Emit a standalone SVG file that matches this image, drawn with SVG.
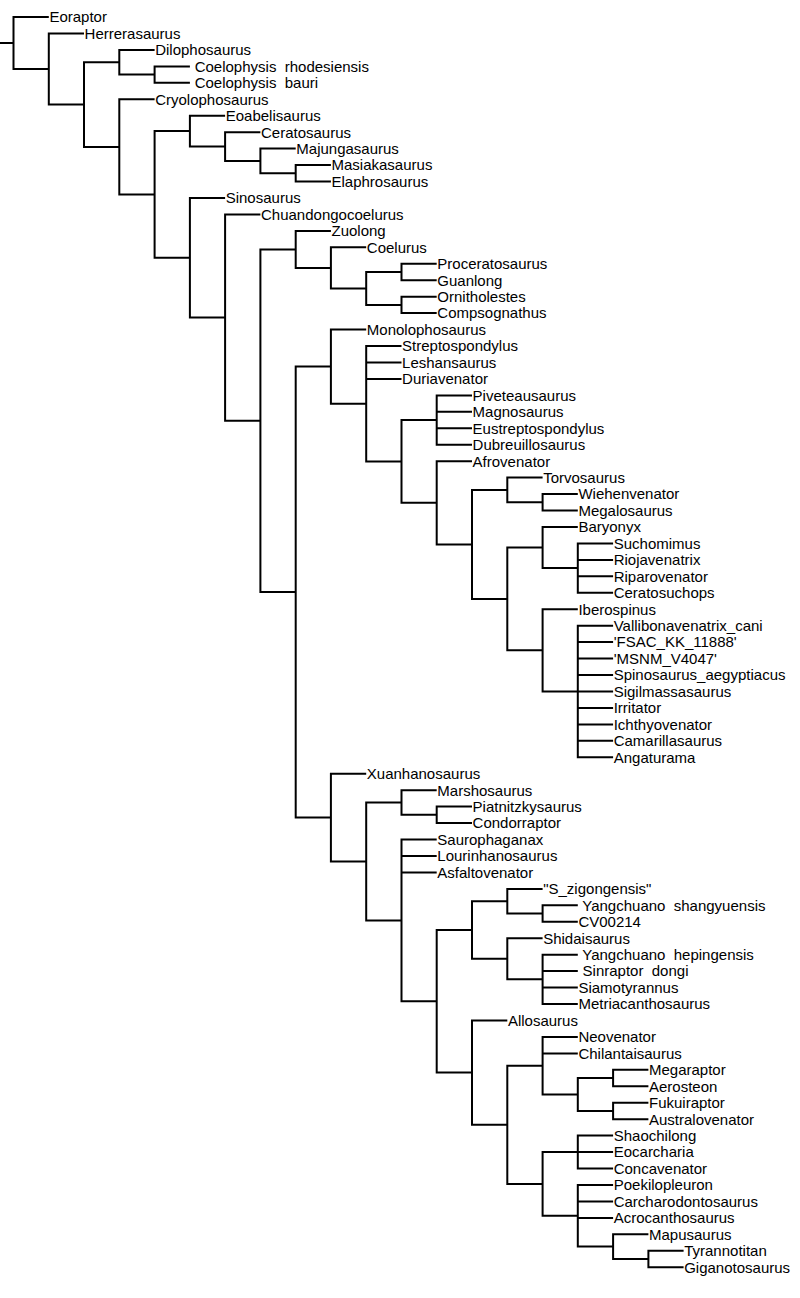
<svg xmlns="http://www.w3.org/2000/svg" width="800" height="1298" viewBox="0 0 800 1298">
<style>
.e{fill:none;stroke:#000;stroke-width:2;stroke-linejoin:miter;stroke-linecap:butt}
text{font-family:"Liberation Sans",Arial,Helvetica,sans-serif;font-size:15px;fill:#000}
</style>
<rect width="800" height="1298" fill="#fff"/>
<g id="connectors" class="e">
<path d="M0,43H13.5 M48.8,17H13.5V69H48.8"/>
<path d="M84,33.5H48.8V104.6H84"/>
<path d="M119.3,62.3H84V146.9H119.3"/>
<path d="M154.6,49.9H119.3V74.6H154.6"/>
<path d="M189.9,66.4H154.6V82.8H189.9"/>
<path d="M154.6,99.3H119.3V194.5H154.6"/>
<path d="M189.9,131.1H154.6V257.8H189.9"/>
<path d="M225.1,115.7H189.9V146.6H225.1"/>
<path d="M260.4,132.2H225.1V161H260.4"/>
<path d="M295.7,148.6H260.4V173.3H295.7"/>
<path d="M330.9,165.1H295.7V181.5H330.9"/>
<path d="M225.1,198H189.9V317.6H225.1"/>
<path d="M260.4,214.4H225.1V420.8H260.4"/>
<path d="M295.7,249.4H260.4V592.1H295.7"/>
<path d="M330.9,230.9H295.7V267.9H330.9"/>
<path d="M366.2,247.3H330.9V288.4H366.2"/>
<path d="M401.5,272H366.2V304.9H401.5"/>
<path d="M436.7,263.8H401.5V280.2H436.7"/>
<path d="M436.7,296.7H401.5V313.1H436.7"/>
<path d="M330.9,366.6H295.7V817.6H330.9"/>
<path d="M366.2,329.6H330.9V403.7H366.2"/>
<path d="M401.5,346H366.2V461.4H401.5 M366.2,362.5H401.5 M366.2,378.9H401.5"/>
<path d="M436.7,420H401.5V502.8H436.7"/>
<path d="M472,395.4H436.7V444.7H472 M436.7,411.8H472 M436.7,428.3H472"/>
<path d="M472,461.2H436.7V544.4H472"/>
<path d="M507.3,489.9H472V598.9H507.3"/>
<path d="M542.6,477.6H507.3V502.3H542.6"/>
<path d="M577.8,494.1H542.6V510.5H577.8"/>
<path d="M542.6,547.5H507.3V650.3H542.6"/>
<path d="M577.8,527H542.6V568.1H577.8"/>
<path d="M613.1,543.4H577.8V592.8H613.1 M577.8,559.9H613.1 M577.8,576.3H613.1"/>
<path d="M577.8,609.2H542.6V691.5H577.8"/>
<path d="M613.1,625.7H577.8V757.3H613.1 M577.8,642.1H613.1 M577.8,658.6H613.1 M577.8,675H613.1 M577.8,691.5H613.1 M577.8,707.9H613.1 M577.8,724.4H613.1 M577.8,740.8H613.1"/>
<path d="M366.2,773.7H330.9V861.5H366.2"/>
<path d="M401.5,802.5H366.2V920.4H401.5"/>
<path d="M436.7,790.2H401.5V814.8H436.7"/>
<path d="M472,806.6H436.7V823.1H472"/>
<path d="M436.7,839.5H401.5V1001.3H436.7 M401.5,856H436.7 M401.5,872.4H436.7"/>
<path d="M472,930H436.7V1072.6H472"/>
<path d="M507.3,901.2H472V958.8H507.3"/>
<path d="M542.6,888.9H507.3V913.5H542.6"/>
<path d="M577.8,905.3H542.6V921.8H577.8"/>
<path d="M542.6,938.2H507.3V979.3H542.6"/>
<path d="M577.8,954.7H542.6V1004H577.8 M542.6,971.1H577.8 M542.6,987.6H577.8"/>
<path d="M507.3,1020.5H472V1124.8H507.3"/>
<path d="M542.6,1065.7H507.3V1183.9H542.6"/>
<path d="M577.8,1036.9H542.6V1094.5H577.8 M542.6,1053.4H577.8"/>
<path d="M613.1,1078H577.8V1110.9H613.1"/>
<path d="M648.4,1069.8H613.1V1086.3H648.4"/>
<path d="M648.4,1102.7H613.1V1119.2H648.4"/>
<path d="M577.8,1152.1H542.6V1215.8H577.8"/>
<path d="M613.1,1135.6H577.8V1168.5H613.1 M577.8,1152.1H613.1"/>
<path d="M613.1,1185H577.8V1246.6H613.1 M577.8,1201.4H613.1 M577.8,1217.9H613.1"/>
<path d="M648.4,1234.3H613.1V1259H648.4"/>
<path d="M683.6,1250.8H648.4V1267.2H683.6"/>
</g>
<g id="leaf-Eoraptor"><text x="49.4" y="22.3">Eoraptor</text></g>
<g id="leaf-Herrerasaurus"><text x="84.6" y="38.8">Herrerasaurus</text></g>
<g id="leaf-Dilophosaurus"><text x="155.2" y="55.2">Dilophosaurus</text></g>
<g id="leaf-Coelophysis-rhodesiensis"><text x="190.5" y="71.7" xml:space="preserve"> Coelophysis  rhodesiensis</text></g>
<g id="leaf-Coelophysis-bauri"><text x="190.5" y="88.1" xml:space="preserve"> Coelophysis  bauri</text></g>
<g id="leaf-Cryolophosaurus"><text x="155.2" y="104.6">Cryolophosaurus</text></g>
<g id="leaf-Eoabelisaurus"><text x="225.7" y="121">Eoabelisaurus</text></g>
<g id="leaf-Ceratosaurus"><text x="261" y="137.5">Ceratosaurus</text></g>
<g id="leaf-Majungasaurus"><text x="296.3" y="153.9">Majungasaurus</text></g>
<g id="leaf-Masiakasaurus"><text x="331.5" y="170.4">Masiakasaurus</text></g>
<g id="leaf-Elaphrosaurus"><text x="331.5" y="186.8">Elaphrosaurus</text></g>
<g id="leaf-Sinosaurus"><text x="225.7" y="203.3">Sinosaurus</text></g>
<g id="leaf-Chuandongocoelurus"><text x="261" y="219.7">Chuandongocoelurus</text></g>
<g id="leaf-Zuolong"><text x="331.5" y="236.2">Zuolong</text></g>
<g id="leaf-Coelurus"><text x="366.8" y="252.6">Coelurus</text></g>
<g id="leaf-Proceratosaurus"><text x="437.3" y="269.1">Proceratosaurus</text></g>
<g id="leaf-Guanlong"><text x="437.3" y="285.5">Guanlong</text></g>
<g id="leaf-Ornitholestes"><text x="437.3" y="302">Ornitholestes</text></g>
<g id="leaf-Compsognathus"><text x="437.3" y="318.4">Compsognathus</text></g>
<g id="leaf-Monolophosaurus"><text x="366.8" y="334.9">Monolophosaurus</text></g>
<g id="leaf-Streptospondylus"><text x="402.1" y="351.3">Streptospondylus</text></g>
<g id="leaf-Leshansaurus"><text x="402.1" y="367.8">Leshansaurus</text></g>
<g id="leaf-Duriavenator"><text x="402.1" y="384.2">Duriavenator</text></g>
<g id="leaf-Piveteausaurus"><text x="472.6" y="400.7">Piveteausaurus</text></g>
<g id="leaf-Magnosaurus"><text x="472.6" y="417.1">Magnosaurus</text></g>
<g id="leaf-Eustreptospondylus"><text x="472.6" y="433.6">Eustreptospondylus</text></g>
<g id="leaf-Dubreuillosaurus"><text x="472.6" y="450">Dubreuillosaurus</text></g>
<g id="leaf-Afrovenator"><text x="472.6" y="466.5">Afrovenator</text></g>
<g id="leaf-Torvosaurus"><text x="543.2" y="482.9">Torvosaurus</text></g>
<g id="leaf-Wiehenvenator"><text x="578.4" y="499.4">Wiehenvenator</text></g>
<g id="leaf-Megalosaurus"><text x="578.4" y="515.8">Megalosaurus</text></g>
<g id="leaf-Baryonyx"><text x="578.4" y="532.3">Baryonyx</text></g>
<g id="leaf-Suchomimus"><text x="613.7" y="548.7">Suchomimus</text></g>
<g id="leaf-Riojavenatrix"><text x="613.7" y="565.2">Riojavenatrix</text></g>
<g id="leaf-Riparovenator"><text x="613.7" y="581.6">Riparovenator</text></g>
<g id="leaf-Ceratosuchops"><text x="613.7" y="598.1">Ceratosuchops</text></g>
<g id="leaf-Iberospinus"><text x="578.4" y="614.5">Iberospinus</text></g>
<g id="leaf-Vallibonavenatrix_cani"><text x="613.7" y="631">Vallibonavenatrix_cani</text></g>
<g id="leaf-FSAC_KK_11888"><text x="613.7" y="647.4">'FSAC_KK_11888'</text></g>
<g id="leaf-MSNM_V4047"><text x="613.7" y="663.9">'MSNM_V4047'</text></g>
<g id="leaf-Spinosaurus_aegyptiacus"><text x="613.7" y="680.3">Spinosaurus_aegyptiacus</text></g>
<g id="leaf-Sigilmassasaurus"><text x="613.7" y="696.8">Sigilmassasaurus</text></g>
<g id="leaf-Irritator"><text x="613.7" y="713.2">Irritator</text></g>
<g id="leaf-Ichthyovenator"><text x="613.7" y="729.7">Ichthyovenator</text></g>
<g id="leaf-Camarillasaurus"><text x="613.7" y="746.1">Camarillasaurus</text></g>
<g id="leaf-Angaturama"><text x="613.7" y="762.6">Angaturama</text></g>
<g id="leaf-Xuanhanosaurus"><text x="366.8" y="779">Xuanhanosaurus</text></g>
<g id="leaf-Marshosaurus"><text x="437.3" y="795.5">Marshosaurus</text></g>
<g id="leaf-Piatnitzkysaurus"><text x="472.6" y="811.9">Piatnitzkysaurus</text></g>
<g id="leaf-Condorraptor"><text x="472.6" y="828.4">Condorraptor</text></g>
<g id="leaf-Saurophaganax"><text x="437.3" y="844.8">Saurophaganax</text></g>
<g id="leaf-Lourinhanosaurus"><text x="437.3" y="861.3">Lourinhanosaurus</text></g>
<g id="leaf-Asfaltovenator"><text x="437.3" y="877.7">Asfaltovenator</text></g>
<g id="leaf-S_zigongensis"><text x="543.2" y="894.2">"S_zigongensis"</text></g>
<g id="leaf-Yangchuano-shangyuensis"><text x="578.4" y="910.6" xml:space="preserve"> Yangchuano  shangyuensis</text></g>
<g id="leaf-CV00214"><text x="578.4" y="927.1">CV00214</text></g>
<g id="leaf-Shidaisaurus"><text x="543.2" y="943.5">Shidaisaurus</text></g>
<g id="leaf-Yangchuano-hepingensis"><text x="578.4" y="960" xml:space="preserve"> Yangchuano  hepingensis</text></g>
<g id="leaf-Sinraptor-dongi"><text x="578.4" y="976.4" xml:space="preserve"> Sinraptor  dongi</text></g>
<g id="leaf-Siamotyrannus"><text x="578.4" y="992.9">Siamotyrannus</text></g>
<g id="leaf-Metriacanthosaurus"><text x="578.4" y="1009.3">Metriacanthosaurus</text></g>
<g id="leaf-Allosaurus"><text x="507.9" y="1025.8">Allosaurus</text></g>
<g id="leaf-Neovenator"><text x="578.4" y="1042.2">Neovenator</text></g>
<g id="leaf-Chilantaisaurus"><text x="578.4" y="1058.7">Chilantaisaurus</text></g>
<g id="leaf-Megaraptor"><text x="649" y="1075.1">Megaraptor</text></g>
<g id="leaf-Aerosteon"><text x="649" y="1091.6">Aerosteon</text></g>
<g id="leaf-Fukuiraptor"><text x="649" y="1108">Fukuiraptor</text></g>
<g id="leaf-Australovenator"><text x="649" y="1124.5">Australovenator</text></g>
<g id="leaf-Shaochilong"><text x="613.7" y="1140.9">Shaochilong</text></g>
<g id="leaf-Eocarcharia"><text x="613.7" y="1157.4">Eocarcharia</text></g>
<g id="leaf-Concavenator"><text x="613.7" y="1173.8">Concavenator</text></g>
<g id="leaf-Poekilopleuron"><text x="613.7" y="1190.3">Poekilopleuron</text></g>
<g id="leaf-Carcharodontosaurus"><text x="613.7" y="1206.7">Carcharodontosaurus</text></g>
<g id="leaf-Acrocanthosaurus"><text x="613.7" y="1223.2">Acrocanthosaurus</text></g>
<g id="leaf-Mapusaurus"><text x="649" y="1239.6">Mapusaurus</text></g>
<g id="leaf-Tyrannotitan"><text x="684.2" y="1256.1">Tyrannotitan</text></g>
<g id="leaf-Giganotosaurus"><text x="684.2" y="1272.5">Giganotosaurus</text></g>
</svg>
